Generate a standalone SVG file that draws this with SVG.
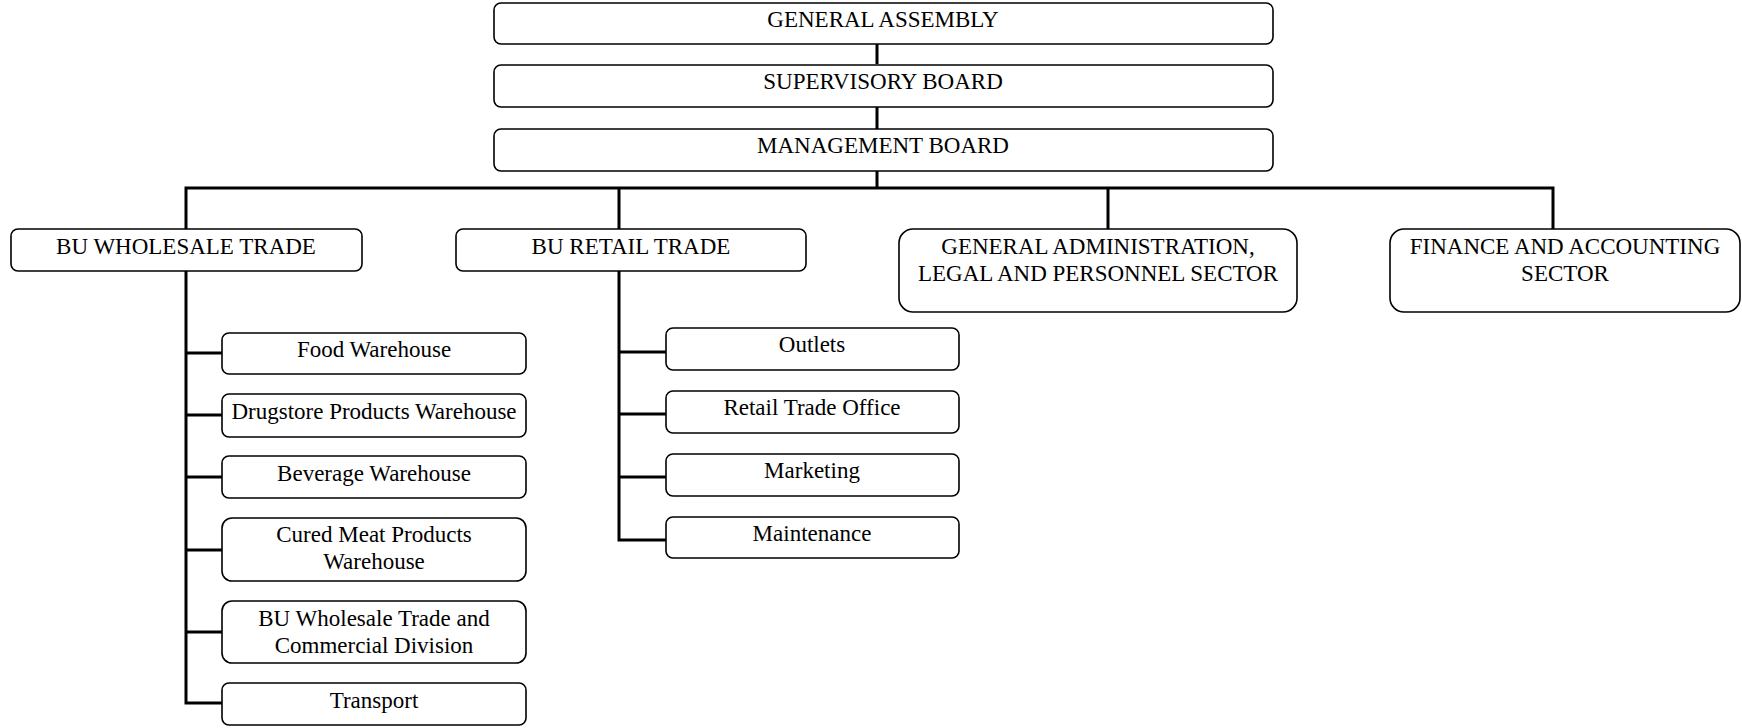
<svg xmlns="http://www.w3.org/2000/svg" width="1742" height="728" viewBox="0 0 1742 728">
<style>
.box{fill:#fff;stroke:#000;stroke-width:1.6}
.t{font-family:"Liberation Serif","Times New Roman",serif;font-size:23px;fill:#000;text-anchor:middle}
.c{fill:none;stroke:#000;stroke-width:3}
</style>
<rect width="1742" height="728" fill="#fff"/>
<g id="connectors">
<path class="c" d="M877 44V64M877 107V129M877 171V188"/>
<path class="c" d="M186 271V188H1553V229M619 188V229M1108 188V229"/>
<path class="c" d="M222 353H186M186 271V703H222M186 415H222M186 477H222M186 550H222M186 632H222"/>
<path class="c" d="M666 352H619M619 271V540H666M619 414H666M619 477H666"/>
</g>
<g id="general-assembly"><rect class="box" x="494" y="3" width="779" height="41" rx="7"/><text class="t" x="883" y="27">GENERAL ASSEMBLY</text></g>
<g id="supervisory-board"><rect class="box" x="494" y="65" width="779" height="42" rx="7"/><text class="t" x="883" y="89">SUPERVISORY BOARD</text></g>
<g id="management-board"><rect class="box" x="494" y="129" width="779" height="42" rx="7"/><text class="t" x="883" y="153">MANAGEMENT BOARD</text></g>
<g id="bu-wholesale"><rect class="box" x="11" y="229" width="351" height="42" rx="7"/><text class="t" x="186" y="254">BU WHOLESALE TRADE</text></g>
<g id="bu-retail"><rect class="box" x="456" y="229" width="350" height="42" rx="7"/><text class="t" x="631" y="254">BU RETAIL TRADE</text></g>
<g id="gen-admin"><rect class="box" x="899" y="229" width="398" height="83" rx="14"/><text class="t" x="1098" y="254">GENERAL ADMINISTRATION,</text><text class="t" x="1098" y="281">LEGAL AND PERSONNEL SECTOR</text></g>
<g id="finance"><rect class="box" x="1390" y="229" width="350" height="83" rx="14"/><text class="t" x="1565" y="254">FINANCE AND ACCOUNTING</text><text class="t" x="1565" y="281">SECTOR</text></g>
<g id="food"><rect class="box" x="222" y="333" width="304" height="41" rx="7"/><text class="t" x="374" y="357">Food Warehouse</text></g>
<g id="drugstore"><rect class="box" x="222" y="394" width="304" height="43" rx="7"/><text class="t" x="374" y="419">Drugstore Products Warehouse</text></g>
<g id="beverage"><rect class="box" x="222" y="456" width="304" height="42" rx="7"/><text class="t" x="374" y="481">Beverage Warehouse</text></g>
<g id="cured-meat"><rect class="box" x="222" y="518" width="304" height="63" rx="10"/><text class="t" x="374" y="542">Cured Meat Products</text><text class="t" x="374" y="569">Warehouse</text></g>
<g id="bu-wholesale-commercial"><rect class="box" x="222" y="601" width="304" height="62" rx="10"/><text class="t" x="374" y="626">BU Wholesale Trade and</text><text class="t" x="374" y="653">Commercial Division</text></g>
<g id="transport"><rect class="box" x="222" y="683" width="304" height="42" rx="7"/><text class="t" x="374" y="708">Transport</text></g>
<g id="outlets"><rect class="box" x="666" y="328" width="293" height="42" rx="7"/><text class="t" x="812" y="352">Outlets</text></g>
<g id="retail-office"><rect class="box" x="666" y="391" width="293" height="42" rx="7"/><text class="t" x="812" y="415">Retail Trade Office</text></g>
<g id="marketing"><rect class="box" x="666" y="454" width="293" height="42" rx="7"/><text class="t" x="812" y="478">Marketing</text></g>
<g id="maintenance"><rect class="box" x="666" y="517" width="293" height="41" rx="7"/><text class="t" x="812" y="541">Maintenance</text></g>
</svg>
